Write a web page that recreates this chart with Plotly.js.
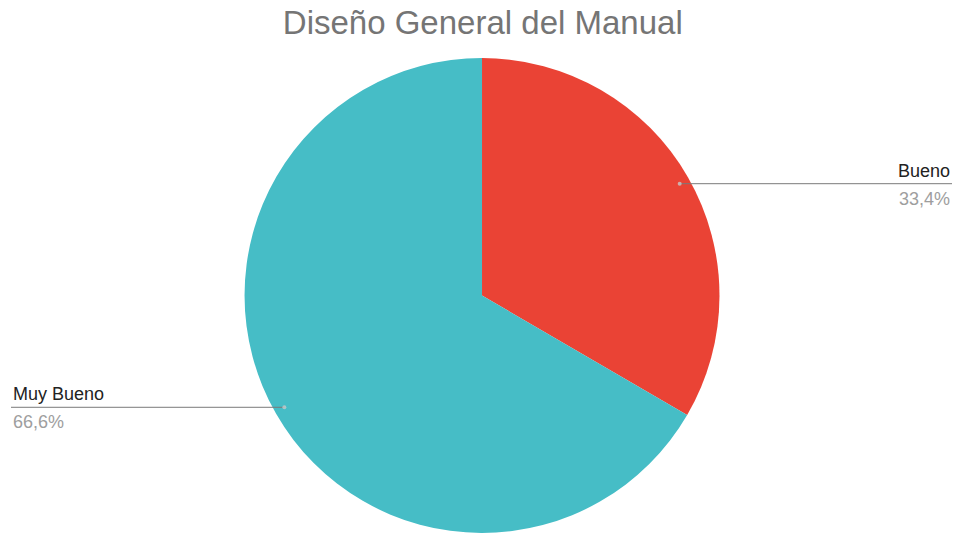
<!DOCTYPE html>
<html>
<head>
<meta charset="utf-8">
<script src="https://cdn.plot.ly/plotly-3.0.1.min.js"></script>
<style>html,body{margin:0;padding:0;background:#fff;}#chart{width:956px;height:533px;}</style>
</head>
<body>
<div id="chart"></div>
<script>
const categories = ["Bueno", "Muy Bueno"];
const values = [33.4, 66.6];
const percentLabels = ["33,4%", "66,6%"];
const colors = ["#EA4335", "#46BDC6"];
const titleText = "Diseño General del Manual";

const W = 956, H = 533;
const domX = [0.2558, 0.7526];
const domY = [0.0, 0.8912];

// pie geometry derived from domain
const cx = (domX[0] + domX[1]) / 2 * W;
const cyPaper = (domY[0] + domY[1]) / 2;
const r = Math.min((domX[1] - domX[0]) * W, (domY[1] - domY[0]) * H) / 2;

const total = values.reduce((a, b) => a + b, 0);
const shapes = [];
const annotations = [];
let start = 0;
values.forEach((v, i) => {
  const mid = start + v / 2;
  start += v;
  const ang = mid / total * 2 * Math.PI; // clockwise from top
  const px = cx + 0.96 * r * Math.sin(ang);
  const pyPx = 0.945 * r * Math.cos(ang); // upward offset in px
  const py = cyPaper + pyPx / H;
  const right = Math.sin(ang) > 0;
  const edge = right ? 952 / W : 11 / W;
  shapes.push({type: "line", xref: "paper", yref: "paper",
    x0: px / W, x1: edge, y0: py, y1: py,
    line: {color: "#7a7a7a", width: 1}});
  shapes.push({type: "circle", xref: "paper", yref: "paper",
    x0: (px - 2) / W, x1: (px + 2) / W, y0: py - 2 / H, y1: py + 2 / H,
    fillcolor: "rgba(200,200,200,0.8)", line: {width: 0}});
  annotations.push({xref: "paper", yref: "paper", x: edge, y: py + 1 / H,
    xanchor: right ? "right" : "left", yanchor: "bottom", showarrow: false,
    text: categories[i], font: {family: "Liberation Sans, Arial, sans-serif", size: 18, color: "#222222"}});
  annotations.push({xref: "paper", yref: "paper", x: edge, y: py - 3 / H,
    xanchor: right ? "right" : "left", yanchor: "top", showarrow: false,
    text: percentLabels[i], font: {family: "Liberation Sans, Arial, sans-serif", size: 18, color: "#9e9e9e"}});
});

const data = [{
  type: "pie",
  labels: categories,
  values: values,
  marker: {colors: colors, line: {width: 0}},
  sort: false,
  direction: "clockwise",
  rotation: 0,
  textinfo: "none",
  hoverinfo: "label+percent",
  domain: {x: domX, y: domY},
  showlegend: false
}];

const layout = {
  width: W, height: H,
  margin: {l: 0, r: 0, t: 0, b: 0},
  paper_bgcolor: "#ffffff",
  plot_bgcolor: "#ffffff",
  showlegend: false,
  title: {text: titleText, x: 0.505, xanchor: "center", y: 1 - 22 / H, yanchor: "middle", yref: "container",
    font: {family: "Liberation Sans, Arial, sans-serif", size: 33, color: "#757575"}},
  shapes: shapes,
  annotations: annotations
};

Plotly.newPlot("chart", data, layout, {displayModeBar: false, staticPlot: true});
</script>
</body>
</html>
